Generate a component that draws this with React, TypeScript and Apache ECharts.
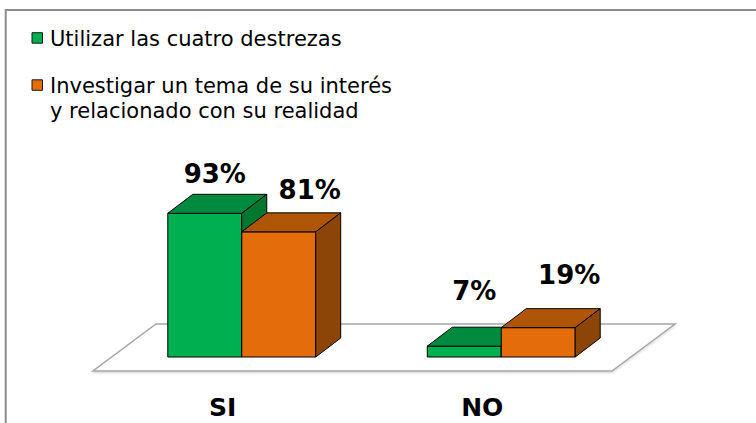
import React, { useEffect, useRef } from "react";
import * as echarts from "echarts";

const categories = ["SI", "NO"];
const seriesNames = [
  "Utilizar las cuatro destrezas",
  "Investigar un tema de su interés\ny relacionado con su realidad",
];
const utilizarValues = [93, 7];
const investigarValues = [81, 19];
const seriesValues = [utilizarValues, investigarValues];

const palette = [
  { front: "#00b050", top: "#008a40", side: "#00772f" },
  { front: "#e46c0a", top: "#af5508", side: "#8d4407" },
];

const FONT = "'DejaVu Sans', Verdana, sans-serif";
const DEPTH_X = 25;
const DEPTH_Y = -19;
const PLANE_X = 19;
const PLANE_Y = -14;
const BAR_FRAC = 0.285;
const FLOOR_X = 63;
const FLOOR_Y = -47;
const LABEL_DX = [10, 31];

function makeBarRenderer(sIdx: number) {
  return (params: any, api: any) => {
    const cat = api.value(0);
    const val = api.value(1);
    const base = api.coord([cat, 0]);
    const top = api.coord([cat, val]);
    const band = api.size([1, 0])[0];
    const w = band * BAR_FRAC;
    const cx = base[0] + PLANE_X;
    const x0 = sIdx === 0 ? cx - w : cx;
    const x1 = x0 + w;
    const yb = base[1] + PLANE_Y;
    const yt = top[1] + PLANE_Y;
    const c = palette[sIdx];
    const stroke = { stroke: "#000", lineWidth: 1 };
    const h = yb - yt;
    const labelBottom = yb - (0.88 * h + 47);
    return {
      type: "group",
      children: [
        {
          type: "rect",
          shape: { x: x0, y: yt, width: w, height: h },
          style: { fill: c.front, ...stroke },
        },
        {
          type: "polygon",
          shape: {
            points: [
              [x0, yt],
              [x1, yt],
              [x1 + DEPTH_X, yt + DEPTH_Y],
              [x0 + DEPTH_X, yt + DEPTH_Y],
            ],
          },
          style: { fill: c.top, ...stroke },
        },
        {
          type: "polygon",
          shape: {
            points: [
              [x1, yt],
              [x1 + DEPTH_X, yt + DEPTH_Y],
              [x1 + DEPTH_X, yb + DEPTH_Y],
              [x1, yb],
            ],
          },
          style: { fill: c.side, ...stroke },
        },
        {
          type: "text",
          style: {
            text: val + "%",
            x: x0 + w / 2 + LABEL_DX[sIdx],
            y: labelBottom - 9.5,
            fill: "#000",
            fontSize: 26,
            fontWeight: "bold",
            fontFamily: FONT,
            align: "center",
            verticalAlign: "middle",
          },
        },
      ],
    };
  };
}

function floorRenderer(params: any) {
  const cs = params.coordSys;
  const yf = cs.y + cs.height;
  return {
    type: "polygon",
    shape: {
      points: [
        [cs.x, yf],
        [cs.x + cs.width, yf],
        [cs.x + cs.width + FLOOR_X, yf + FLOOR_Y],
        [cs.x + FLOOR_X, yf + FLOOR_Y],
      ],
    },
    style: {
      fill: "#fff",
      stroke: "#a6a6a6",
      lineWidth: 1.5,
      shadowColor: "rgba(0,0,0,0.15)",
      shadowBlur: 2,
      shadowOffsetY: 1.5,
    },
  };
}

export default function App() {
  const ref = useRef<HTMLDivElement>(null);
  useEffect(() => {
    if (!ref.current) return;
    const chart = echarts.init(ref.current, null, { renderer: "svg" });
    const legendGraphics: any[] = [];
    const legendTops = [25.9, 73];
    seriesNames.forEach((name, i) => {
      legendGraphics.push({
        type: "rect",
        shape: { x: 32, y: legendTops[i] + 6.8, width: 10.5, height: 10.5 },
        style: { fill: palette[i].front, stroke: "#1a1a1a", lineWidth: 1 },
      });
      legendGraphics.push({
        type: "text",
        x: 50,
        y: legendTops[i],
        style: {
          text: name,
          fill: "#000",
          fontSize: 21,
          fontFamily: FONT,
          lineHeight: 25.6,
          verticalAlign: "top",
        },
      });
    });
    chart.setOption({
      animation: false,
      backgroundColor: "#fff",
      grid: { left: 93, top: 216.5, width: 519, height: 154.5 },
      xAxis: {
        type: "category",
        data: categories,
        axisLine: { show: false },
        axisTick: { show: false },
        splitLine: { show: false },
        axisLabel: {
          color: "#000",
          fontSize: 25,
          fontWeight: "bold",
          fontFamily: FONT,
          margin: 36,
          verticalAlign: "middle",
        },
      },
      yAxis: { type: "value", min: 0, max: 100, show: false },
      graphic: [
        {
          type: "rect",
          z: 0,
          shape: { x: 5.7, y: 10, width: 800, height: 500 },
          style: { fill: "none", stroke: "#8c8c8c", lineWidth: 2 },
        },
        ...legendGraphics,
      ],
      series: [
        {
          type: "custom",
          name: "floor",
          z: 1,
          data: [[0, 0]],
          renderItem: floorRenderer,
          silent: true,
        },
        ...seriesValues.map((vals, sIdx) => ({
          type: "custom",
          name: seriesNames[sIdx],
          z: 3 + sIdx,
          data: vals.map((v, i) => [i, v]),
          encode: { x: 0, y: 1 },
          renderItem: makeBarRenderer(sIdx),
        })),
      ],
    });
    return () => chart.dispose();
  }, []);
  return (
    <div
      ref={ref}
      style={{ position: "fixed", left: 0, top: 0, width: 756, height: 423 }}
    />
  );
}
